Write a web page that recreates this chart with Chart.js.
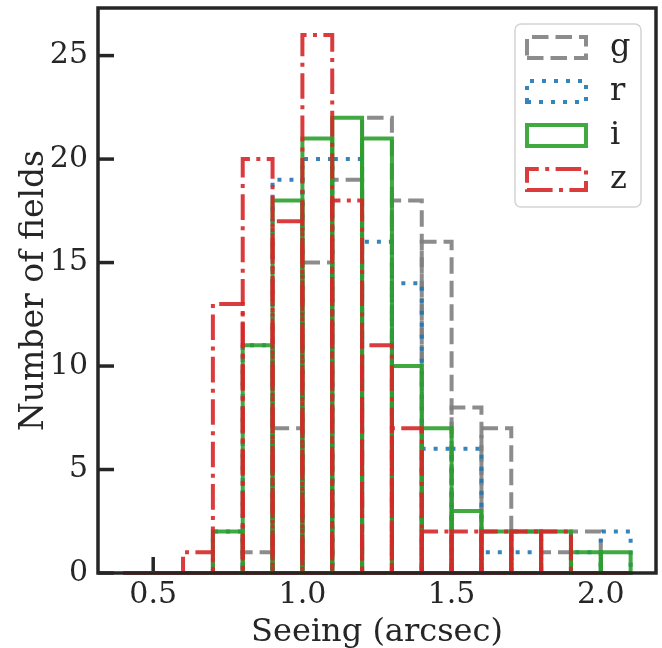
<!DOCTYPE html>
<html>
<head>
<meta charset="utf-8">
<script src="https://cdn.jsdelivr.net/npm/chart.js@4"></script>
<style>
  html, body { margin: 0; padding: 0; background: #fff; }
</style>
</head>
<body>
<canvas id="seeingChart" width="662" height="648"></canvas>
<script>
// bin edges (arcsec) and counts per band
const binEdges = [0.4, 0.5, 0.6, 0.7, 0.8, 0.9, 1.0, 1.1, 1.2, 1.3, 1.4, 1.5, 1.6, 1.7, 1.8, 1.9, 2.0, 2.1];
const bands = ['g', 'r', 'i', 'z'];
const gCounts = [0, 0, 0, 0, 1, 7, 15, 19, 22, 18, 16, 8, 7, 2, 1, 2, 0];
const rCounts = [0, 0, 0, 2, 11, 19, 20, 20, 16, 14, 6, 6, 1, 1, 0, 1, 2];
const iCounts = [0, 0, 0, 2, 11, 18, 21, 22, 21, 10, 7, 3, 2, 2, 2, 1, 1];
const zCounts = [0, 0, 1, 13, 20, 17, 26, 18, 11, 7, 2, 2, 2, 2, 2, 0, 0];
const xTickValues = [0.5, 1.0, 1.5, 2.0];
const yTickValues = [0, 5, 10, 15, 20, 25];

const INK = '#262626';
const FONT = '"DejaVu Serif", serif';
const LW = 4;

const styles = {
  g: { color: 'rgba(127,127,127,0.9)', dash: [16.5, 7] },
  r: { color: 'rgba(31,119,180,0.9)', dash: [4, 8] },
  i: { color: 'rgba(44,160,44,0.9)', dash: [] },
  z: { color: 'rgba(214,39,40,0.9)', dash: [25.6, 6.4, 4, 6.4] }
};

const centers = binEdges.slice(0, -1).map((e, k) => (e + binEdges[k + 1]) / 2);
const countsByBand = { g: gCounts, r: rCounts, i: iCounts, z: zCounts };

const datasets = bands.map(b => ({
  label: b,
  data: centers.map((c, k) => ({ x: c, y: countsByBand[b][k] })),
  backgroundColor: 'rgba(0,0,0,0)',
  borderWidth: 0,
  grouped: false,
  barPercentage: 1,
  categoryPercentage: 1
}));

// outlined (unfilled) bars with matplotlib-like dash patterns, frame, ticks, legend
const histPlugin = {
  id: 'histPlugin',
  beforeDatasetsDraw(chart) {
    const { ctx, chartArea: a, scales } = chart;
    ctx.save();
    ctx.strokeStyle = INK;
    ctx.lineWidth = 3.5;
    ctx.setLineDash([]);
    scales.x.ticks.forEach(t => {
      const px = scales.x.getPixelForValue(t.value);
      ctx.beginPath();
      ctx.moveTo(px, a.bottom);
      ctx.lineTo(px, a.bottom - 16);
      ctx.stroke();
    });
    scales.y.ticks.forEach(t => {
      const py = scales.y.getPixelForValue(t.value);
      ctx.beginPath();
      ctx.moveTo(a.left, py);
      ctx.lineTo(a.left + 16, py);
      ctx.stroke();
    });
    ctx.restore();
  },
  afterDatasetsDraw(chart) {
    const { ctx, chartArea: a } = chart;
    ctx.save();
    ctx.lineCap = 'butt';
    ctx.lineJoin = 'miter';
    chart.data.datasets.forEach((ds, di) => {
      const st = styles[ds.label];
      ctx.strokeStyle = st.color;
      ctx.lineWidth = LW;
      ctx.setLineDash(st.dash);
      chart.getDatasetMeta(di).data.forEach(bar => {
        const { x, y, base, width } = bar.getProps(['x', 'y', 'base', 'width'], true);
        const l = x - width / 2, r = x + width / 2;
        ctx.beginPath();
        ctx.moveTo(l, base);
        ctx.lineTo(r, base);
        ctx.lineTo(r, y);
        ctx.lineTo(l, y);
        ctx.closePath();
        ctx.stroke();
      });
    });

    // frame
    ctx.setLineDash([]);
    ctx.strokeStyle = INK;
    ctx.lineWidth = 3.5;
    ctx.strokeRect(a.left, a.top, a.right - a.left, a.bottom - a.top);

    // legend
    const bx = a.right - 141, by = a.top + 16, bw = 126, bh = 183;
    ctx.fillStyle = 'rgba(255,255,255,0.8)';
    ctx.strokeStyle = '#d4d4d4';
    ctx.lineWidth = 1.5;
    ctx.beginPath();
    ctx.roundRect(bx, by, bw, bh, 6);
    ctx.fill();
    ctx.stroke();
    chart.data.datasets.forEach((ds, k) => {
      const st = styles[ds.label];
      const cy = by + 23.5 + k * 44;
      const l = bx + 12, r = bx + 71, t = cy - 10.5, b = cy + 10.5;
      ctx.strokeStyle = st.color;
      ctx.lineWidth = LW;
      ctx.setLineDash(st.dash);
      ctx.beginPath();
      ctx.moveTo(l, b);
      ctx.lineTo(r, b);
      ctx.lineTo(r, t);
      ctx.lineTo(l, t);
      ctx.closePath();
      ctx.stroke();
      ctx.setLineDash([]);
      ctx.fillStyle = INK;
      ctx.font = '32px ' + FONT;
      ctx.textAlign = 'left';
      ctx.textBaseline = 'middle';
      ctx.fillText(ds.label, bx + 95, cy);
    });
    ctx.restore();
  }
};

new Chart(document.getElementById('seeingChart'), {
  type: 'bar',
  data: { datasets },
  options: {
    responsive: false,
    devicePixelRatio: 1,
    animation: false,
    layout: { padding: { left: 0, right: 6, top: 8, bottom: 0 } },
    plugins: {
      legend: { display: false },
      tooltip: { enabled: false }
    },
    scales: {
      x: {
        type: 'linear',
        offset: false,
        min: 0.315,
        max: 2.185,
        grid: { display: false, drawTicks: false, offset: false },
        border: { display: false },
        afterBuildTicks: s => { s.ticks = xTickValues.map(v => ({ value: v })); },
        afterFit: s => { s.height = 75; s.paddingLeft = 0; s.paddingRight = 0; },
        ticks: {
          color: INK,
          font: { family: FONT, size: 30 },
          padding: 4,
          maxRotation: 0,
          callback: v => v.toFixed(1)
        },
        title: {
          display: true,
          text: 'Seeing (arcsec)',
          color: INK,
          font: { family: FONT, size: 32, lineHeight: 0.95 },
          padding: { top: 0, bottom: 0 }
        }
      },
      y: {
        min: 0,
        max: 27.3,
        grid: { display: false, drawTicks: false },
        border: { display: false },
        afterBuildTicks: s => { s.ticks = yTickValues.map(v => ({ value: v })); },
        afterFit: s => { s.width = 98; s.paddingTop = 0; s.paddingBottom = 0; },
        ticks: {
          color: INK,
          font: { family: FONT, size: 30 },
          padding: 10,
          callback: v => String(v)
        },
        title: {
          display: true,
          text: 'Number of fields',
          color: INK,
          font: { family: FONT, size: 33, lineHeight: 1 },
          padding: { top: 18, bottom: 0 }
        }
      }
    }
  },
  plugins: [histPlugin]
});
</script>
</body>
</html>
